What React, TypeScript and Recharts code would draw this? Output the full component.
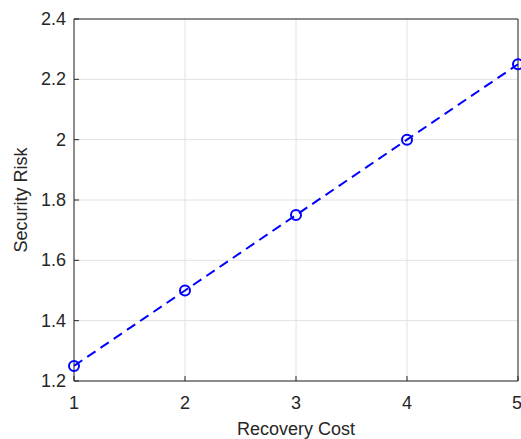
import React from 'react';
import { LineChart, Line, XAxis, YAxis, CartesianGrid, ReferenceLine } from 'recharts';

const costs = [1, 2, 3, 4, 5];
const risks = [1.25, 1.5, 1.75, 2.0, 2.25];
const xTicks = [1, 2, 3, 4, 5];
const yTicks = [1.2, 1.4, 1.6, 1.8, 2.0, 2.2, 2.4];

const data = costs.map((c, i) => ({ cost: c, risk: risks[i] }));

const FONT = 'Liberation Sans, Arial, sans-serif';
const INK = '#262626';

// custom ticks so the font size sticks
function XTick(props: any) {
	const { x, payload } = props;
	return (
		<text x={x} y={409} textAnchor="middle" fontSize={18} fill={INK} fontFamily={FONT}>
			{String(payload.value)}
		</text>
	);
}

function YTick(props: any) {
	const { y, payload } = props;
	return (
		<text x={66} y={y} dy={6} textAnchor="end" fontSize={18} fill={INK} fontFamily={FONT}>
			{String(Math.round(payload.value * 10) / 10)}
		</text>
	);
}

export default function App() {
	return (
		<div style={{ position: 'absolute', left: 0, top: 0, background: '#fff' }}>
			<LineChart width={521} height={439} data={data} margin={{ top: 19, right: 3, bottom: 0, left: 0 }}>
				<CartesianGrid stroke="#e2e2e2" strokeWidth={1} />
				<XAxis dataKey="cost" type="number" domain={[1, 5]} ticks={xTicks}
					stroke={INK} tickSize={-5} tick={<XTick />} height={58}
					label={{ value: 'Recovery Cost', position: 'insideBottom', offset: 4, style: { fontSize: 18, fill: INK, fontFamily: FONT } }} />
				<YAxis type="number" domain={[1.2, 2.4]} ticks={yTicks} width={74}
					stroke={INK} tickSize={-5} tick={<YTick />}
					label={{ value: 'Security Risk', angle: -90, position: 'insideLeft', offset: 21, style: { fontSize: 18, fill: INK, fontFamily: FONT, textAnchor: 'middle' } }} />
				{/* top and right box edges */}
				<ReferenceLine y={2.4} stroke={INK} strokeWidth={1} />
				<ReferenceLine x={5} stroke={INK} strokeWidth={1} />
				<Line dataKey="risk" stroke="#0000ff" strokeWidth={2} strokeDasharray="10 6"
					dot={{ r: 5, stroke: '#0000ff', strokeWidth: 2, fill: 'none', strokeDasharray: '' }}
					isAnimationActive={false} />
			</LineChart>
		</div>
	);
}
